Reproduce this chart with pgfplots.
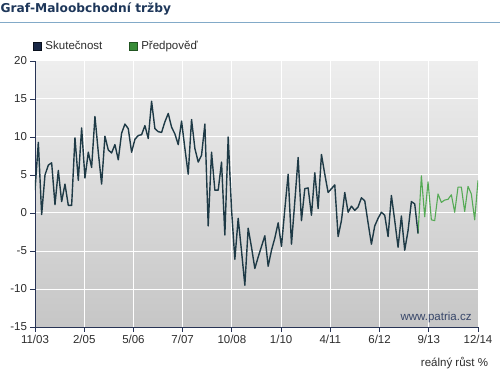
\documentclass[border=0pt]{standalone}
\usepackage{fontspec}
\setmainfont{Liberation Sans}
\newfontfamily\titlefont{DejaVu Sans}
\usepackage{pgfplots}
\pgfplotsset{compat=1.18}
\definecolor{darkline}{RGB}{30,58,70}
\definecolor{greenline}{RGB}{85,170,85}
\definecolor{axisnavy}{RGB}{40,52,85}
\definecolor{legnavy}{RGB}{25,40,70}
\definecolor{leggreen}{RGB}{55,140,55}
\definecolor{titleblue}{RGB}{30,55,90}
\definecolor{rulecol}{RGB}{130,170,200}
\definecolor{bgtop}{RGB}{238,238,238}
\definecolor{bgbot}{RGB}{198,198,198}
\definecolor{ticktext}{RGB}{45,45,45}
\definecolor{wm}{RGB}{55,70,105}

\pgfplotstableread{
m v
0 3.0
1 9.3
2 -0.2
3 5.0
4 6.3
5 6.6
6 1.1
7 5.6
8 1.5
9 3.8
10 1.0
11 1.0
12 9.9
13 4.3
14 11.2
15 4.6
16 8.0
17 6.0
18 12.7
19 8.0
20 3.8
21 10.1
22 8.3
23 7.9
24 9.0
25 7.0
26 10.5
27 11.7
28 11.1
29 8.0
30 9.7
31 10.2
32 10.3
33 11.5
34 9.8
35 14.7
36 11.1
37 10.7
38 10.6
39 12.0
40 13.1
41 11.3
42 10.4
43 9.0
44 12.1
45 8.5
46 5.1
47 12.3
48 8.5
49 6.7
50 7.6
51 11.7
52 -1.7
53 8.0
54 3.0
55 3.0
56 6.7
57 -2.9
58 10.0
59 0.5
60 -6.1
61 -0.7
62 -5.0
63 -9.5
64 -2.0
65 -4.5
66 -7.3
67 -5.8
68 -4.4
69 -3.0
70 -7.0
71 -4.9
72 -3.3
73 -1.3
74 -4.4
75 0.5
76 5.1
77 -4.1
78 1.5
79 7.3
80 -1.0
81 3.2
82 3.3
83 -0.3
84 5.3
85 0.6
86 7.7
87 5.1
88 2.7
89 3.2
90 3.7
91 -3.1
92 -1.0
93 2.7
94 0.1
95 0.9
96 0.35
97 0.8
98 2.0
99 1.6
100 -1.3
101 -4.1
102 -1.7
103 -0.7
104 0.1
105 -0.3
106 -3.1
107 2.3
108 -1.0
109 -4.5
110 -0.4
111 -4.9
112 -2.3
113 1.5
114 1.2
115 -2.7
}\actual

\pgfplotstableread{
m v
115 -2.7
116 4.9
117 -0.5
118 4.1
119 -0.9
120 -1.0
121 2.5
122 1.4
123 1.7
124 1.8
125 2.4
126 0.1
127 3.4
128 3.4
129 0.2
130 3.5
131 2.5
132 -0.9
133 4.3
}\forecast

\begin{document}
\begin{tikzpicture}[x=1pt,y=1pt]
\useasboundingbox (0,0) rectangle (500,372);
\fill[white] (0,0) rectangle (500,372);
\draw[rulecol, line width=1pt] (0,349.3) -- (500,349.3);
\begin{axis}[
  at={(35pt,45pt)}, anchor=south west,
  scale only axis, width=443pt, height=266pt,
  xmin=0, xmax=133, ymin=-15, ymax=20,
  axis background/.style={top color=bgtop, bottom color=bgbot},
  axis x line*=bottom, axis y line*=left,
  axis line style={draw=axisnavy, line width=0.8pt},
  tick style={draw=axisnavy, line width=0.8pt},
  tick align=outside, major tick length=4.5pt,
  xtick={0,14.7778,29.5556,44.3333,59.1111,73.8889,88.6667,103.4444,118.2222,133},
  xticklabels={11/03,2/05,5/06,7/07,10/08,1/10,4/11,6/12,9/13,12/14},
  ytick={-15,-10,-5,0,5,10,15,20},
  yticklabels={-15,-10,-5,0,5,10,15,20},
  grid=major, grid style={white, line width=1pt},
  tick label style={font=\fontsize{11.5}{13}\selectfont, color=ticktext},
  title={\titlefont\bfseries Graf-Maloobchodní tržby},
  title style={at={(axis description cs:-0.0779,1.1605)}, anchor=base west, inner sep=0pt, font=\fontsize{12.2}{14}\selectfont, color=titleblue},
  xlabel={reálný růst \%},
  xlabel style={at={(axis description cs:1,0)}, anchor=base east, inner sep=0pt, xshift=10.3pt, yshift=-39pt, font=\fontsize{11.5}{13}\selectfont, color=ticktext},
  legend style={at={(axis description cs:-0.0052,1.057)}, anchor=west, draw=none, fill=none, inner sep=0pt,
    font=\fontsize{11.5}{13}\selectfont, text=ticktext,
    /tikz/every odd column/.append style={column sep=2pt},
    /tikz/every even column/.append style={column sep=24.3pt}},
  legend columns=2,
]
\addlegendimage{legend image code/.code={\draw[draw=black!60!legnavy, fill=legnavy, line width=0.6pt] (0pt,-4pt) rectangle (8pt,4pt);}}
\addlegendentry{Skutečnost}
\addlegendimage{legend image code/.code={\draw[draw=black!40!leggreen, fill=leggreen, line width=0.6pt] (0pt,-4pt) rectangle (8pt,4pt);}}
\addlegendentry{Předpověď}
\addplot[greenline, line width=1.1pt, line join=round, forget plot] table[x=m, y=v] {\forecast};
\addplot[darkline, line width=1.4pt, line join=round, forget plot] table[x=m, y=v] {\actual};
\node[anchor=base east, inner sep=0pt, font=\fontsize{11.5}{13}\selectfont, text=wm] at (axis description cs:0.9858,0.0263) {www.patria.cz};
\end{axis}
\end{tikzpicture}
\end{document}
